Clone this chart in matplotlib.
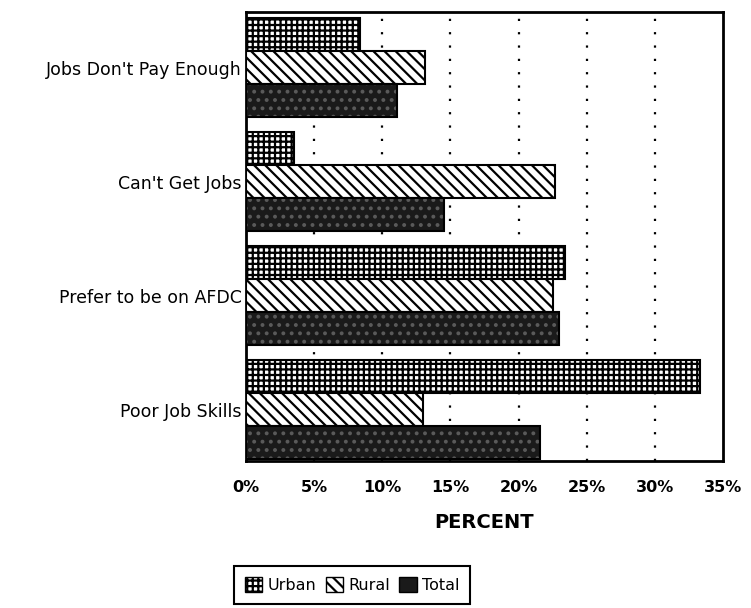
import matplotlib
matplotlib.use("Agg")
import matplotlib.pyplot as plt
import numpy as np
from matplotlib.patches import Patch

categories = ["Jobs Don't Pay Enough", "Can't Get Jobs", "Prefer to be on AFDC", "Poor Job Skills"]
urban = [8.4, 3.5, 23.4, 33.3]
rural = [13.1, 22.7, 22.5, 13.0]
total = [11.1, 14.5, 23.0, 21.6]
xticks = [0, 5, 10, 15, 20, 25, 30, 35]
xticklabels = ["0%", "5%", "10%", "15%", "20%", "25%", "30%", "35%"]

plt.rcParams['font.family'] = ['DejaVu Sans']
plt.rcParams['hatch.linewidth'] = 1.6

fig = plt.figure(figsize=(7.51, 6.08), dpi=100)
ax = fig.add_axes([246/751, 1-461/608, (723-246)/751, (461-12)/608])

y = np.arange(len(categories))
h = 0.29

# Urban: grid hatch
ax.barh(y - h, urban, height=h, color='white', edgecolor='black', hatch='+++', linewidth=1.5, zorder=3)
# Rural: diagonal stripes
ax.barh(y, rural, height=h, color='white', edgecolor='black', hatch='\\\\\\', linewidth=1.5, zorder=3)
# Total: dark speckled
ax.barh(y + h, total, height=h, color='#1a1a1a', edgecolor='#5a5a5a', hatch='..', linewidth=0, zorder=3)
ax.barh(y + h, total, height=h, fill=False, edgecolor='black', linewidth=1.5, zorder=4)

ax.set_xlim(0, 35)
ax.set_ylim(3.45, -0.49)

for gx in xticks[1:-1]:
    ax.axvline(gx, color='black', linestyle=(0, (1, 5)), linewidth=1.6, zorder=1)

ax.set_xticks(xticks)
ax.set_xticklabels(xticklabels, fontsize=11.5, fontweight='bold')
ax.set_yticks(y)
ax.set_yticklabels(categories, fontsize=12.5)
ax.tick_params(axis='both', length=0)
ax.tick_params(axis='x', pad=14)
ax.tick_params(axis='y', pad=3)

for s in ax.spines.values():
    s.set_linewidth(2)
    s.set_color('black')

ax.set_xlabel("PERCENT", fontsize=14, fontweight='bold', labelpad=13)

handles = [
    Patch(facecolor='white', edgecolor='black', hatch='+++', label='Urban'),
    Patch(facecolor='white', edgecolor='black', hatch='\\\\\\', label='Rural'),
    Patch(facecolor='#1a1a1a', edgecolor='black', label='Total'),
]
leg = fig.legend(handles=handles, loc='center', bbox_to_anchor=(352/751, 1-585/608), ncol=3,
                 fancybox=False, edgecolor='black', fontsize=11.5, handlelength=1.1, handleheight=1.1,
                 handletextpad=0.3, columnspacing=0.6, borderpad=0.7, framealpha=1)
leg.get_frame().set_linewidth(1.5)

fig.savefig("out.png", dpi=100)
